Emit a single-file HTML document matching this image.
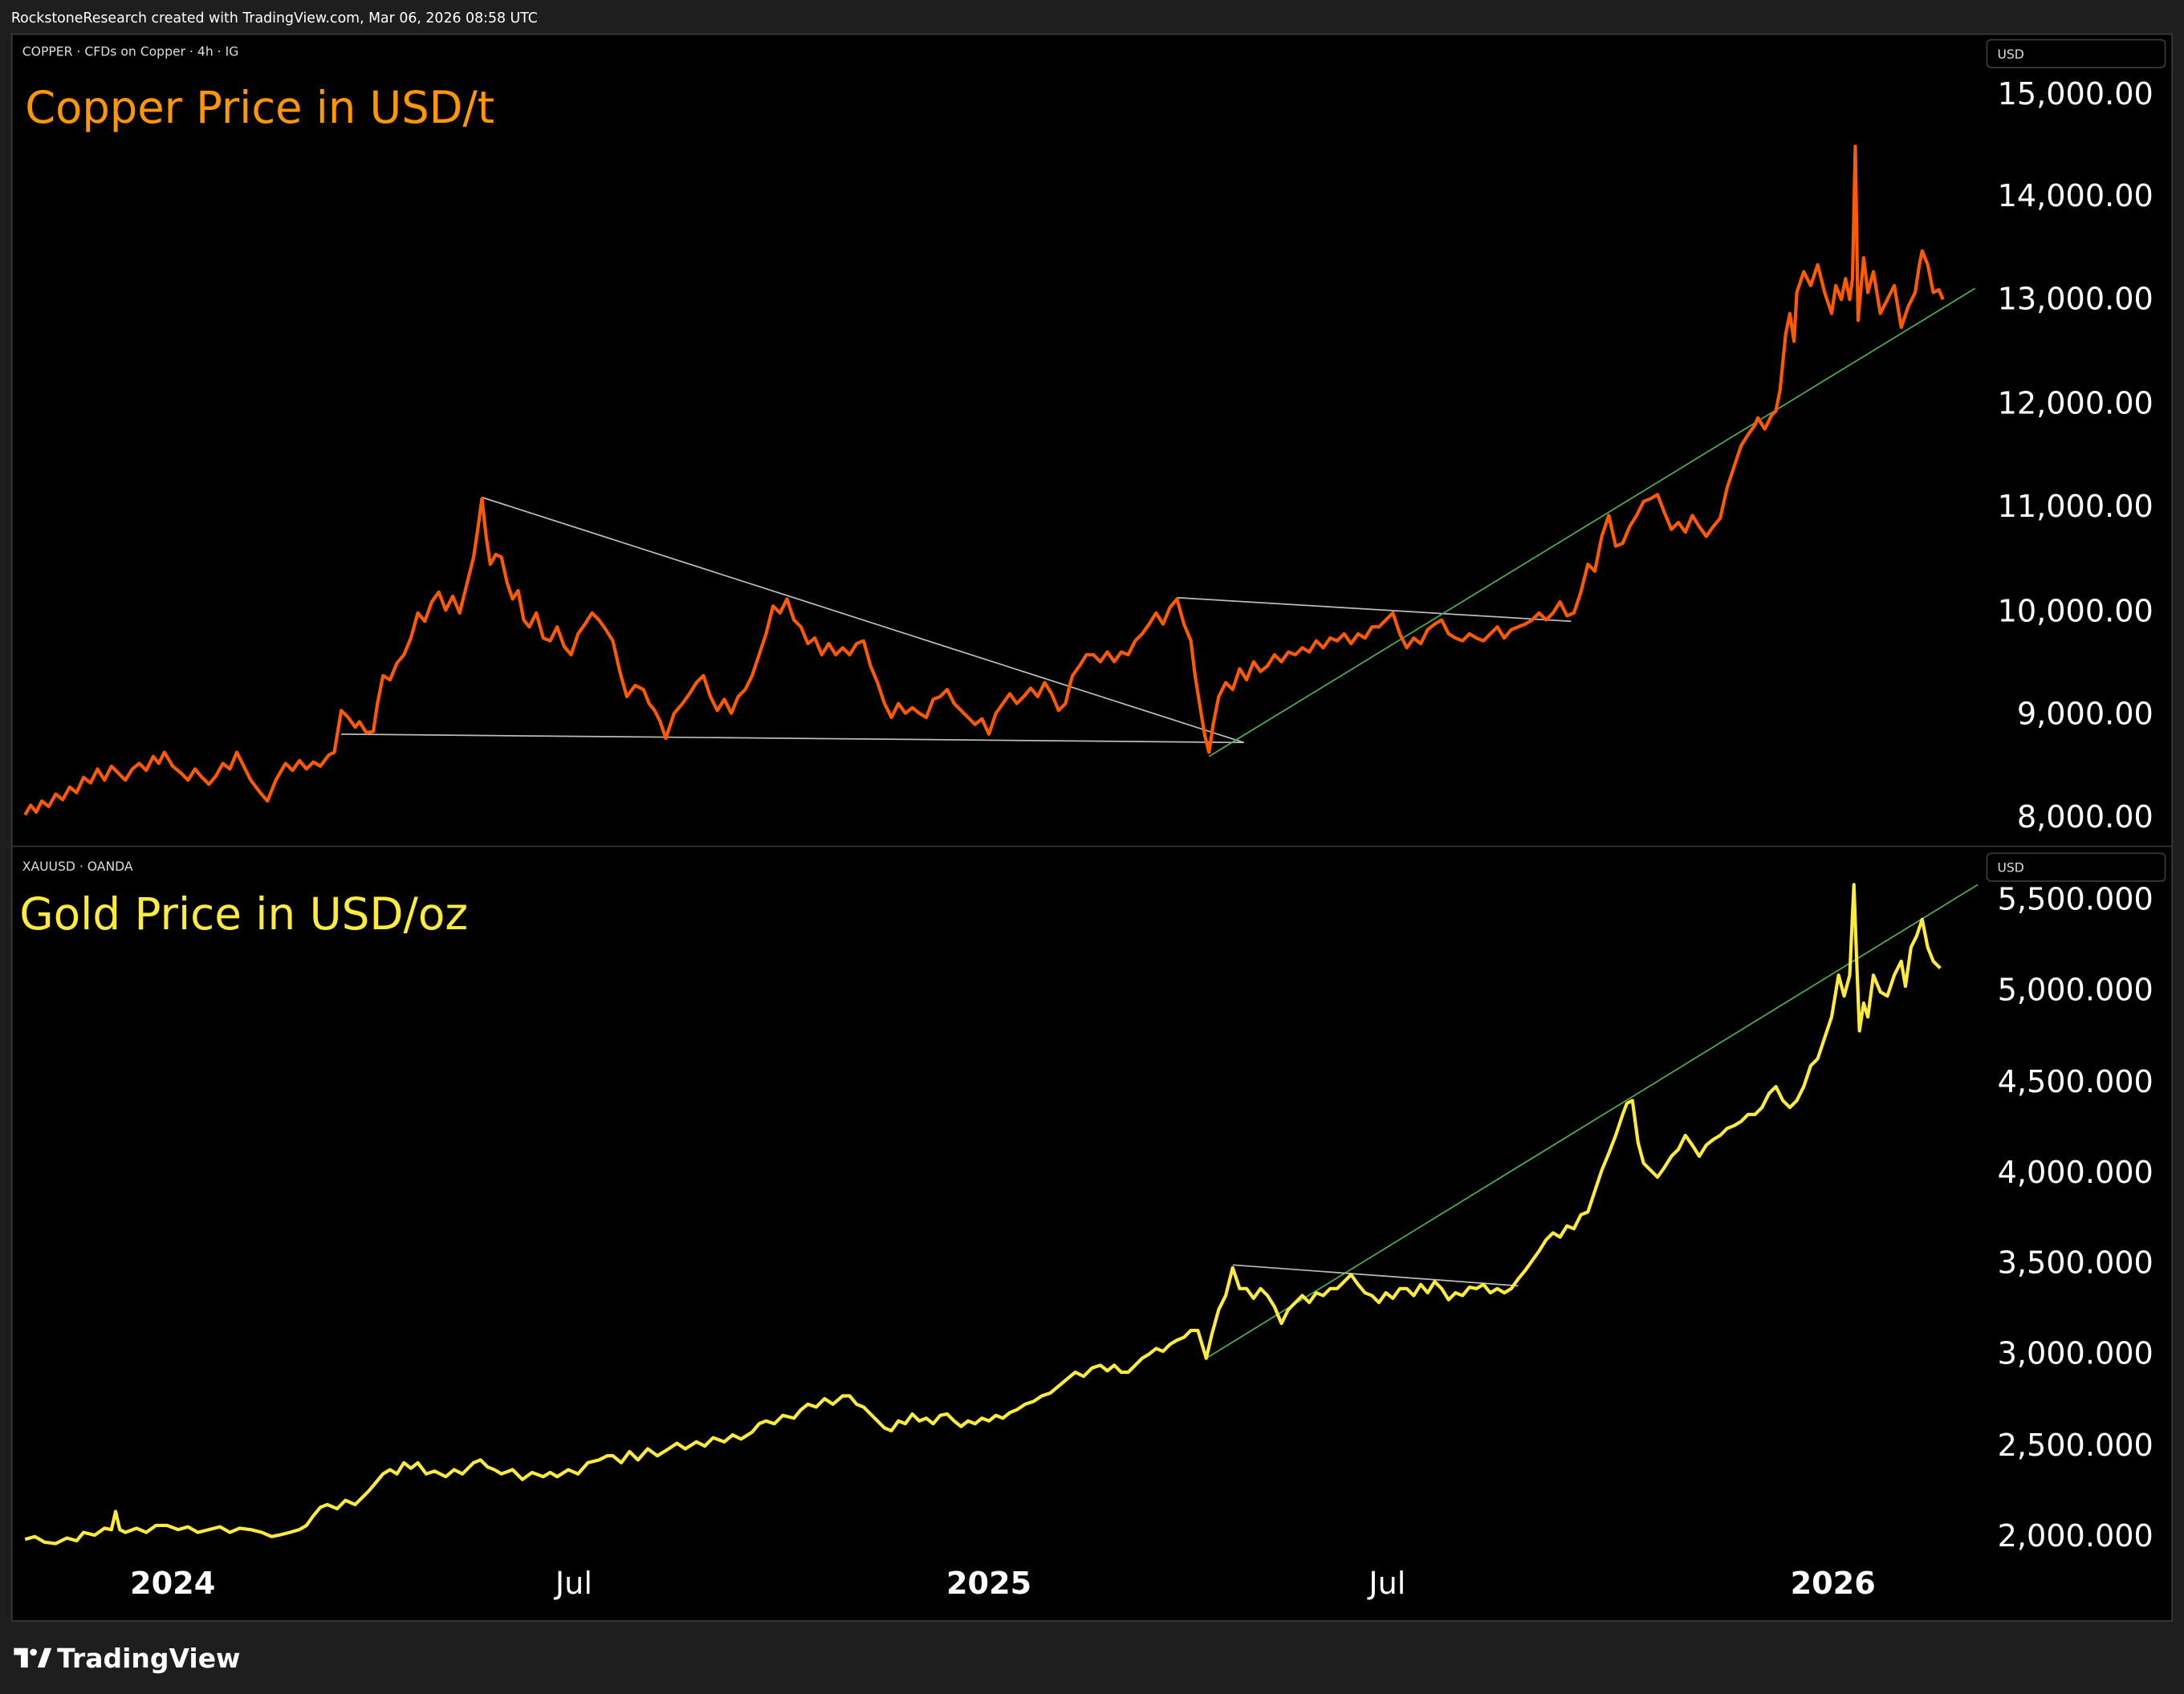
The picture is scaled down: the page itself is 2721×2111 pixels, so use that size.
<!DOCTYPE html>
<html><head><meta charset="utf-8">
<style>
html,body{margin:0;padding:0;background:#1e1e1e;}
svg{display:block;}
text{font-family:"DejaVu Sans","Liberation Sans",sans-serif;}
</style></head>
<body>
<svg width="2721" height="2111" viewBox="0 0 1568 1216" preserveAspectRatio="none" xmlns="http://www.w3.org/2000/svg">
<rect x="0" y="0" width="1568" height="1216" fill="#1e1e1e"/>
<text x="8" y="16" fill="#ffffff" font-size="10">RockstoneResearch created with TradingView.com, Mar 06, 2026 08:58 UTC</text>
<rect x="8.5" y="24.5" width="1551" height="1139" fill="#000" stroke="#3a3a3a"/>
<line x1="9" y1="607.5" x2="1559" y2="607.5" stroke="#333"/>
<text x="16" y="40" fill="#ddd" font-size="9">COPPER · CFDs on Copper · 4h · IG</text>
<text x="16" y="625" fill="#ddd" font-size="9">XAUUSD · OANDA</text>
<text x="18" y="88" fill="#ff9800" font-size="32" textLength="337" lengthAdjust="spacingAndGlyphs">Copper Price in USD/t</text>
<text x="14" y="667" fill="#ffeb3b" font-size="32" textLength="322" lengthAdjust="spacingAndGlyphs">Gold Price in USD/oz</text>
<rect x="1426.5" y="28.5" width="128" height="20" rx="3" fill="#000" stroke="#3a3a3a"/>
<text x="1434" y="42" fill="#ddd" font-size="9">USD</text>
<rect x="1426.5" y="612.5" width="128" height="20" rx="3" fill="#000" stroke="#3a3a3a"/>
<text x="1434" y="626" fill="#ddd" font-size="9">USD</text>
<g fill="#fff" font-size="22" text-anchor="end">
<text x="1546" y="75">15,000.00</text>
<text x="1546" y="148">14,000.00</text>
<text x="1546" y="222">13,000.00</text>
<text x="1546" y="297">12,000.00</text>
<text x="1546" y="371">11,000.00</text>
<text x="1546" y="446">10,000.00</text>
<text x="1546" y="520">9,000.00</text>
<text x="1546" y="594">8,000.00</text>
<text x="1546" y="653">5,500.000</text>
<text x="1546" y="718">5,000.000</text>
<text x="1546" y="784">4,500.000</text>
<text x="1546" y="849">4,000.000</text>
<text x="1546" y="914">3,500.000</text>
<text x="1546" y="979">3,000.000</text>
<text x="1546" y="1045">2,500.000</text>
<text x="1546" y="1110">2,000.000</text>
</g>
<g fill="#fff" font-size="22" text-anchor="middle">
<text x="124" y="1144" font-weight="bold">2024</text>
<text x="412" y="1144">Jul</text>
<text x="710" y="1144" font-weight="bold">2025</text>
<text x="996" y="1144">Jul</text>
<text x="1316" y="1144" font-weight="bold">2026</text>
</g>
<g stroke-width="1" fill="none">
<line x1="346" y1="357" x2="893" y2="533" stroke="#bbb"/>
<line x1="245" y1="527" x2="893" y2="533" stroke="#bbb"/>
<line x1="845" y1="429" x2="1128" y2="446" stroke="#bbb"/>
<line x1="868" y1="543" x2="1418" y2="207" stroke="#4caf50"/>
<line x1="866" y1="975" x2="1420" y2="635" stroke="#4caf50"/>
<line x1="885" y1="908" x2="1090" y2="923" stroke="#bbb"/>
</g>
<polyline fill="none" stroke="#ff5a00" stroke-width="2.4" stroke-linejoin="round" points="18,585 22,578 26,583 30,575 35,579 40,570 45,574 50,565 55,569 60,558 65,562 70,552 75,560 80,550 85,555 90,560 95,552 100,548 105,553 110,543 114,548 118,540 124,550 130,555 135,560 140,552 145,558 150,563 155,557 160,548 165,552 170,540 175,550 180,560 186,568 192,575 198,560 205,548 210,553 215,546 220,552 225,547 230,550 236,542 240,540 243,522 245,510 250,515 255,522 258,518 263,526 268,525 271,505 275,485 280,488 285,476 290,470 295,458 300,440 305,446 310,432 315,425 320,438 325,428 330,440 335,420 340,400 343,380 346,358 349,385 352,405 356,398 360,400 364,418 368,430 372,424 376,445 380,450 385,440 390,458 395,460 400,450 405,464 410,470 415,455 420,448 425,440 430,445 435,452 440,460 445,482 450,500 456,492 462,495 466,505 470,510 474,518 478,530 484,512 490,505 495,498 500,490 505,485 510,500 515,510 520,502 525,512 530,500 535,495 540,485 545,470 550,455 555,435 560,440 565,430 570,445 575,450 580,462 585,458 590,470 595,462 600,470 605,465 610,470 615,462 620,460 625,478 630,490 635,505 640,515 645,505 650,512 655,508 660,512 665,515 670,502 675,500 680,495 685,505 690,510 695,515 700,520 705,516 710,527 715,512 720,505 725,498 730,505 735,500 740,494 745,500 750,490 755,498 760,510 765,505 768,492 770,485 775,478 780,470 785,470 790,475 795,468 800,475 805,468 810,470 815,460 820,455 825,448 830,440 835,448 840,436 845,430 850,448 855,460 858,485 862,510 865,528 868,540 871,520 875,500 880,490 885,495 890,480 895,488 900,475 905,482 910,478 915,470 920,475 925,468 930,470 935,465 940,468 945,460 950,465 955,458 960,460 965,455 970,462 975,455 980,458 985,450 990,450 995,445 1000,440 1005,455 1010,465 1015,458 1020,462 1025,452 1030,448 1035,445 1040,455 1045,458 1050,460 1055,455 1060,458 1065,460 1070,455 1075,450 1080,458 1085,452 1090,450 1095,448 1100,445 1105,440 1110,445 1115,440 1120,432 1125,442 1130,440 1135,425 1140,405 1145,410 1150,385 1155,370 1160,392 1165,390 1170,378 1175,370 1180,360 1185,358 1190,355 1195,368 1200,380 1205,375 1210,382 1215,370 1220,378 1225,385 1230,378 1235,372 1240,350 1245,335 1250,320 1255,312 1260,305 1262,300 1267,308 1272,298 1275,295 1278,280 1280,260 1282,240 1285,225 1288,245 1290,210 1295,195 1300,205 1305,190 1310,210 1315,225 1318,205 1322,215 1325,200 1328,215 1330,200 1332,105 1334,230 1338,185 1341,210 1345,195 1350,225 1355,215 1360,205 1365,235 1370,220 1375,210 1378,190 1380,180 1384,190 1388,210 1392,208 1395,215"/>
<polyline fill="none" stroke="#ffeb3b" stroke-width="2.4" stroke-linejoin="round" points="18,1105 25,1103 32,1107 40,1108 48,1104 55,1106 60,1100 68,1102 75,1097 80,1098 83,1085 86,1098 90,1100 98,1097 105,1100 112,1095 120,1095 128,1098 135,1096 142,1100 150,1098 158,1096 165,1100 172,1097 180,1098 188,1100 195,1103 200,1102 208,1100 215,1098 220,1095 225,1088 230,1082 235,1080 242,1083 248,1077 255,1080 260,1075 265,1070 270,1064 275,1058 280,1055 285,1058 290,1050 295,1054 300,1050 306,1058 312,1056 320,1060 326,1055 332,1058 340,1050 345,1048 350,1053 355,1055 360,1058 368,1055 375,1062 382,1057 390,1060 395,1057 400,1060 408,1055 415,1058 422,1050 430,1048 436,1045 440,1045 446,1050 452,1042 458,1048 465,1040 472,1045 480,1040 486,1036 492,1040 500,1035 506,1038 512,1032 520,1035 526,1030 532,1033 540,1028 545,1022 550,1020 556,1022 562,1016 570,1018 575,1012 580,1008 586,1010 592,1004 598,1008 605,1002 610,1002 615,1008 620,1010 625,1015 630,1020 635,1025 640,1027 645,1020 650,1022 655,1015 660,1020 665,1018 670,1022 675,1016 680,1015 685,1020 690,1024 695,1020 700,1022 705,1018 710,1020 715,1016 720,1018 725,1014 730,1012 736,1008 742,1006 748,1002 754,1000 760,995 766,990 772,985 778,988 784,982 790,980 795,984 800,980 805,985 810,985 815,980 820,975 825,972 830,968 835,970 840,965 845,962 850,960 855,955 860,955 863,965 866,975 870,958 875,940 880,930 885,910 890,925 895,925 900,932 905,925 910,930 915,938 920,950 925,940 930,935 935,930 940,935 945,928 950,930 955,925 960,925 965,920 970,915 975,922 980,928 985,930 990,935 995,928 1000,932 1005,925 1010,925 1015,930 1020,922 1025,928 1030,920 1035,925 1040,933 1045,928 1050,930 1055,924 1060,925 1065,922 1070,928 1075,925 1080,928 1085,925 1090,918 1095,912 1100,905 1105,898 1110,890 1115,885 1120,888 1125,880 1130,882 1135,872 1140,870 1145,855 1150,840 1155,828 1160,815 1165,800 1168,792 1172,790 1176,820 1180,835 1185,840 1190,845 1195,838 1200,830 1205,825 1210,815 1215,822 1220,830 1225,822 1230,818 1235,815 1240,810 1245,808 1250,805 1255,800 1260,800 1265,795 1270,785 1275,780 1280,790 1285,795 1290,790 1295,780 1300,765 1305,760 1310,745 1315,730 1320,700 1324,715 1328,700 1331,635 1333,690 1335,740 1338,720 1341,730 1345,700 1350,712 1355,715 1360,700 1365,690 1368,708 1372,680 1376,672 1380,660 1384,680 1388,690 1393,695"/>
<g fill="#fff">
<path d="M10 1183h10v14h-5v-9h-5z"/>
<circle cx="24" cy="1186" r="2.5"/>
<path d="M27 1197l5-14h5l-5 14z"/>
<text x="41" y="1197" font-size="19" font-weight="bold">TradingView</text>
</g>
</svg>
</body></html>
